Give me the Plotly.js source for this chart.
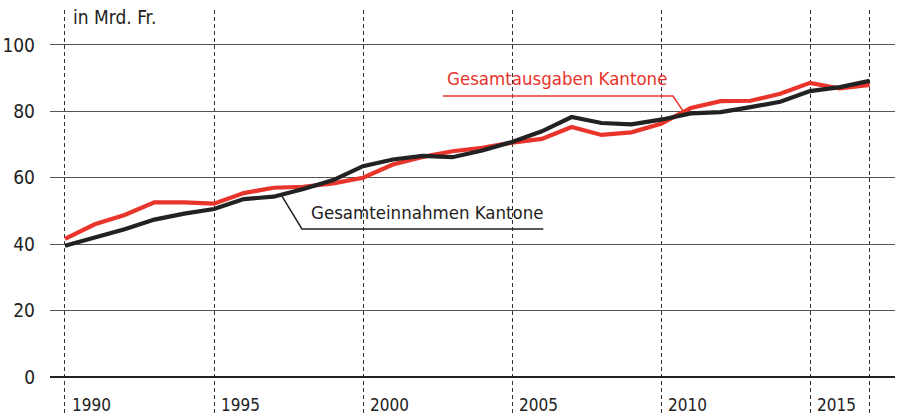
<!DOCTYPE html>
<html>
<head>
<meta charset="utf-8">
<script src="https://cdn.plot.ly/plotly-3.0.1.min.js"></script>
<style>
html,body{margin:0;padding:0;background:#fff;}
#chart{width:898px;height:415px;}
</style>
</head>
<body>
<div id="chart"></div>
<script>
const years = [1990,1991,1992,1993,1994,1995,1996,1997,1998,1999,2000,2001,2002,2003,2004,2005,2006,2007,2008,2009,2010,2011,2012,2013,2014,2015,2016,2017];
const einnahmen = [39.5,42.0,44.5,47.4,49.2,50.6,53.6,54.3,56.6,59.3,63.5,65.5,66.6,66.2,68.2,70.8,74.0,78.3,76.5,76.1,77.5,79.4,79.8,81.3,82.9,86.1,87.3,89.2];
const ausgaben = [41.6,46.0,48.8,52.6,52.6,52.2,55.4,57.0,57.3,58.3,60.0,64.0,66.3,68.0,69.0,70.6,71.7,75.3,72.9,73.7,76.3,81.0,83.1,83.2,85.3,88.6,86.9,88.0];
const yearLabels = [1990,1995,2000,2005,2010,2015];
const gridYears = [1990,1995,2000,2005,2010,2015,2017];
const yTicks = [0,20,40,60,80,100];
const unitLabel = 'in Mrd. Fr.';
const seriesNames = ['Gesamteinnahmen Kantone','Gesamtausgaben Kantone'];

const FONT = '"Liberation Sans Narrow","DejaVu Sans Condensed","Arial Narrow",sans-serif';
const BLACK = '#222222';
const RED = '#e8342b';

const traces = [
  {x: years, y: ausgaben, type:'scatter', mode:'lines', name: seriesNames[1],
   line:{color:RED, width:4.2}, hoverinfo:'skip'},
  {x: years, y: einnahmen, type:'scatter', mode:'lines', name: seriesNames[0],
   line:{color:BLACK, width:4.2}, hoverinfo:'skip'}
];

const annotations = yearLabels.map(y => ({
  x: y, y: 0, xref:'x', yref:'paper', text: String(y), showarrow:false,
  xanchor:'left', yanchor:'bottom', xshift:5, yshift:-2,
  font:{family:FONT, size:17, color:BLACK}
}));
annotations.push({
  x: 1990, y: 1, xref:'x', yref:'paper', text: unitLabel, showarrow:false,
  xanchor:'left', yanchor:'top', xshift:6, yshift:6,
  font:{family:FONT, size:19, color:BLACK}
});
annotations.push({
  x: 2002.75, y: 89.8, xref:'x', yref:'y', text: seriesNames[1], showarrow:false,
  xanchor:'left', yanchor:'middle', font:{family:FONT, size:18.5, color:RED}
});
annotations.push({
  x: 1998.2, y: 49.4, xref:'x', yref:'y', text: seriesNames[0], showarrow:false,
  xanchor:'left', yanchor:'middle', font:{family:FONT, size:18.5, color:BLACK}
});

const shapes = [
  {type:'path', xref:'x', yref:'y', path:'M 2002.68 84.64 L 2010.40 84.64 L 2010.72 80.4',
   line:{color:RED, width:1.5}},
  {type:'path', xref:'x', yref:'y', path:'M 1997.28 54.5 L 1997.95 44.58 L 2006.05 44.58',
   line:{color:BLACK, width:1.5}}
];

const layout = {
  width:898, height:415,
  margin:{l:50, r:3, t:10, b:0, pad:0},
  paper_bgcolor:'#fff', plot_bgcolor:'#fff',
  showlegend:false,
  xaxis:{
    range:[1989.497, 2017.85], tickmode:'array', tickvals:gridYears,
    showticklabels:false, ticks:'', showgrid:true, gridcolor:'#333', gridwidth:1,
    griddash:'4px,3px', zeroline:false, showline:false, fixedrange:true
  },
  yaxis:{
    range:[-11.45, 110.54], tickmode:'array', tickvals:yTicks,
    ticks:'', showgrid:true, gridcolor:'#555', gridwidth:1,
    zeroline:true, zerolinecolor:BLACK, zerolinewidth:2.5, showline:false,
    ticklabelstandoff:14,
    tickfont:{family:FONT, size:19, color:BLACK}, fixedrange:true
  },
  annotations: annotations,
  shapes: shapes
};

Plotly.newPlot('chart', traces, layout, {displayModeBar:false, staticPlot:true});
</script>
</body>
</html>
